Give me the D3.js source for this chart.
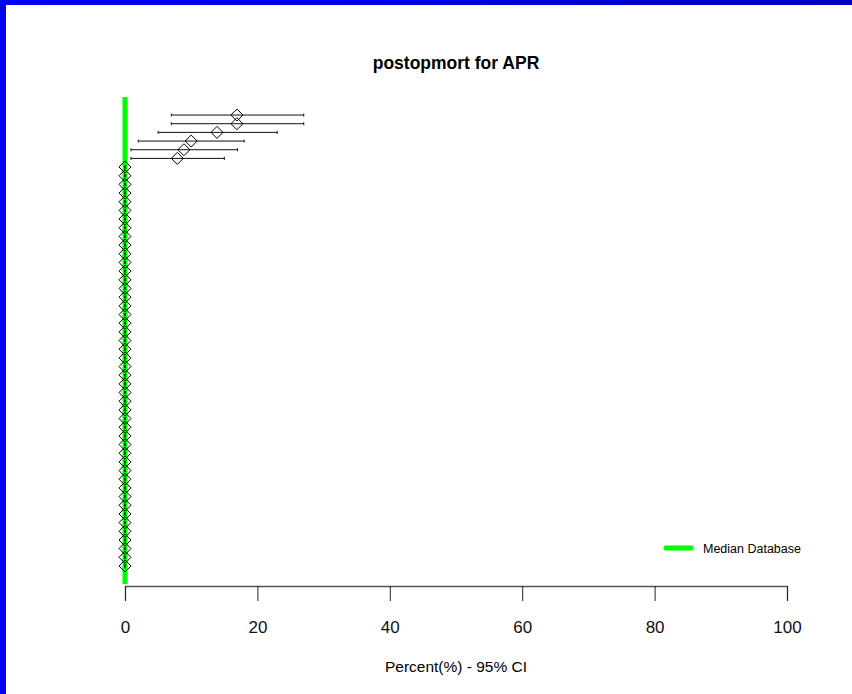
<!DOCTYPE html>
<html>
<head>
<meta charset="utf-8">
<script src="https://cdn.jsdelivr.net/npm/d3@7"></script>
<style>
  body { margin: 0; background: #fff; }
  svg { display: block; font-family: "Liberation Sans", Arial, sans-serif; }
</style>
</head>
<body>
<div id="chart"></div>
<script>
var width = 852, height = 694;

// data: estimate, lower and upper 95% CI, top row first
var nonZeroEst = [16.9, 16.9, 13.9, 10.0, 8.9, 7.9];
var nonZeroLow = [7.0, 7.0, 5.0, 2.0, 0.9, 0.9];
var nonZeroHigh = [27.0, 27.0, 23.0, 18.0, 17.0, 15.0];
var zeroRowCount = 47;
var medianDatabase = 0;
var xTicks = [0, 20, 40, 60, 80, 100];

var rows = [];
for (var i = 0; i < nonZeroEst.length; i++) {
  rows.push({est: nonZeroEst[i], lo: nonZeroLow[i], hi: nonZeroHigh[i]});
}
for (var j = 0; j < zeroRowCount; j++) {
  rows.push({est: 0, lo: 0, hi: 0});
}
var n = rows.length;
rows.forEach(function(d, k){ d.idx = n - k; });

var svg = d3.select('#chart').append('svg')
  .attr('width', width)
  .attr('height', height);

var defs = svg.append('defs');
var grad = defs.append('linearGradient').attr('id', 'topbar')
  .attr('x1', '0').attr('x2', '1').attr('y1', '0').attr('y2', '0');
grad.append('stop').attr('offset', '0').attr('stop-color', '#0000ff');
grad.append('stop').attr('offset', '1').attr('stop-color', '#0000c8');

svg.append('rect').attr('x', 0).attr('y', 0).attr('width', width).attr('height', 5)
  .attr('fill', 'url(#topbar)');
svg.append('rect').attr('x', 0).attr('y', 0).attr('width', 6).attr('height', height)
  .attr('fill', '#0000ff');

var x = d3.scaleLinear().domain([0, 100]).range([125, 787]);
var pad = (n - 1) * 0.04;
var y = d3.scaleLinear().domain([1 - pad, n + pad]).range([584, 97]);

// title
svg.append('text')
  .attr('x', 456).attr('y', 69)
  .attr('text-anchor', 'middle')
  .attr('font-size', 17.5).attr('font-weight', 'bold')
  .text('postopmort for APR');

// median line
svg.append('line')
  .attr('x1', x(medianDatabase)).attr('x2', x(medianDatabase))
  .attr('y1', y(1 - pad)).attr('y2', y(n + pad))
  .attr('stroke', '#00ff00').attr('stroke-width', 5);

// x axis
var axis = svg.append('g')
  .attr('transform', 'translate(0,586)')
  .call(d3.axisBottom(x).tickValues(xTicks).tickSize(15).tickPadding(20));
axis.select('.domain').attr('stroke', '#555').attr('stroke-width', 1.3);
axis.selectAll('.tick line').attr('stroke', '#222');
axis.selectAll('.tick text')
  .attr('font-size', 17)
  .attr('font-family', '"Liberation Sans", Arial, sans-serif')
  .attr('fill', '#111');

svg.append('text')
  .attr('x', 456).attr('y', 672)
  .attr('text-anchor', 'middle')
  .attr('font-size', 15.5)
  .text('Percent(%) - 95% CI');

// error bars
var bars = svg.append('g').selectAll('g').data(rows).enter().append('g');
bars.append('line')
  .attr('x1', function(d){ return x(d.lo); })
  .attr('x2', function(d){ return x(d.hi); })
  .attr('y1', function(d){ return y(d.idx); })
  .attr('y2', function(d){ return y(d.idx); })
  .attr('stroke', '#111').attr('stroke-width', 1);
bars.append('line')
  .attr('x1', function(d){ return x(d.lo); })
  .attr('x2', function(d){ return x(d.lo); })
  .attr('y1', function(d){ return y(d.idx) - 1.5; })
  .attr('y2', function(d){ return y(d.idx) + 1.5; })
  .attr('stroke', '#111');
bars.append('line')
  .attr('x1', function(d){ return x(d.hi); })
  .attr('x2', function(d){ return x(d.hi); })
  .attr('y1', function(d){ return y(d.idx) - 1.5; })
  .attr('y2', function(d){ return y(d.idx) + 1.5; })
  .attr('stroke', '#111');

// diamonds
var s = 6;
bars.append('path')
  .attr('d', function(d){
    var cx = x(d.est), cy = y(d.idx);
    return 'M' + cx + ',' + (cy - s) + 'L' + (cx + s) + ',' + cy +
           'L' + cx + ',' + (cy + s) + 'L' + (cx - s) + ',' + cy + 'Z';
  })
  .attr('fill', 'none')
  .attr('stroke', '#000').attr('stroke-width', 1);

// legend
svg.append('line')
  .attr('x1', 666).attr('x2', 691).attr('y1', 548).attr('y2', 548)
  .attr('stroke', '#00ff00').attr('stroke-width', 5).attr('stroke-linecap', 'round');
svg.append('text')
  .attr('x', 703).attr('y', 552.5)
  .attr('font-size', 12.5)
  .text('Median Database');
</script>
</body>
</html>
